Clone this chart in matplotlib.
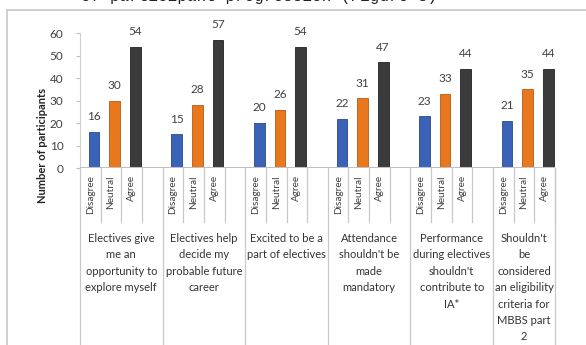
import matplotlib.pyplot as plt
from matplotlib.patches import Rectangle
from matplotlib.lines import Line2D

# data
responses = ["Disagree", "Neutral", "Agree"]
statements = [
    "Electives give\nme an\nopportunity to\nexplore myself",
    "Electives help\ndecide my\nprobable future\ncareer",
    "Excited to be a\npart of electives",
    "Attendance\nshouldn't be\nmade\nmandatory",
    "Performance\nduring electives\nshouldn't\ncontribute to\nIA*",
    "Shouldn't\nbe\nconsidered\nan eligibility\ncriteria for\nMBBS part\n2",
]
disagree = [16, 15, 20, 22, 23, 21]
neutral = [30, 28, 26, 31, 33, 35]
agree = [54, 57, 54, 47, 44, 44]
yticks = [0, 10, 20, 30, 40, 50, 60]

colors = ["#3a63b8", "#e8771e", "#3b3b3b"]
edges = ["#2a4a8c", "#b85a12", "#222222"]

plt.rcParams['font.family'] = ['Lato', 'DejaVu Sans']

fig = plt.figure(figsize=(5.86, 3.45), dpi=100)
W, H = 586, 345
ax = fig.add_axes([80 / W, 1 - 168 / H, 475 / W, 135 / H])

# outer chart frame
fig.patches.append(Rectangle((7 / W, -0.05), 1.1, 1 - 10 / H + 0.05,
                             transform=fig.transFigure, fill=False,
                             edgecolor="#c8c8c8", lw=1.2))

# text of the page above the chart, cut off by the crop
fig.text(81 / W, 1 - 1 / H, "of participant progression (Figure 3)",
         family=['Liberation Mono', 'DejaVu Sans Mono'], fontsize=11.5,
         ha='left', va='baseline', color="#222222")

series = [disagree, neutral, agree]
for k, vals in enumerate(series):
    xs = [4 * g + k + 0.5 + 0.18 for g in range(len(vals))]
    bars = ax.bar(xs, vals, width=0.52, color=colors[k], edgecolor=edges[k],
                  linewidth=0.6, zorder=3)
    ax.bar_label(bars, labels=[str(v) for v in vals], padding=7,
                 fontsize=8.5, color="#404040")

ax.set_xlim(0, 23)
ax.set_ylim(0, 60)
ax.set_yticks(yticks)
ax.tick_params(axis='y', labelsize=8.5, labelcolor="#404040", color="#bfbfbf",
               length=3, pad=9)
ax.set_xticks([])
for s in ["top", "right", "bottom"]:
    ax.spines[s].set_visible(False)
ax.spines["left"].set_color("#d0d0d0")
ax.axhline(0, color="#c0c0c0", lw=2.2, zorder=4)
fig.text(43 / W, 1 - 145 / H, "Number of participants", rotation=90,
         ha='center', va='center', fontsize=8, fontweight='bold',
         color="#222222")

# multi-level category axis
trans = ax.get_xaxis_transform()
bottom = (168 - 350) / 135
sub_bottom = (168 - 222) / 135
for g in range(len(statements)):
    for k, r in enumerate(responses):
        ax.text(4 * g + k + 0.5, (168 - 175) / 135, r, transform=trans,
                rotation=90, ha='center', va='top', fontsize=7.2,
                color="#404040")
        ax.add_line(Line2D([4 * g + k + 1] * 2, [0, sub_bottom],
                           transform=trans, color="#c8c8c8", lw=0.9,
                           clip_on=False))
    ax.add_line(Line2D([4 * g] * 2, [0, bottom], transform=trans,
                       color="#c8c8c8", lw=0.9, clip_on=False))
    cx = 4 * g + 2 if g < len(statements) - 1 else 4 * g + 1.5
    ax.text(cx, (168 - 233) / 135, statements[g], transform=trans,
            ha='center', va='top', fontsize=8, color="#333333",
            linespacing=1.6)
ax.add_line(Line2D([23, 23], [0, bottom], transform=trans, color="#c8c8c8",
                   lw=0.9, clip_on=False))

fig.savefig("out.png", dpi=100)
